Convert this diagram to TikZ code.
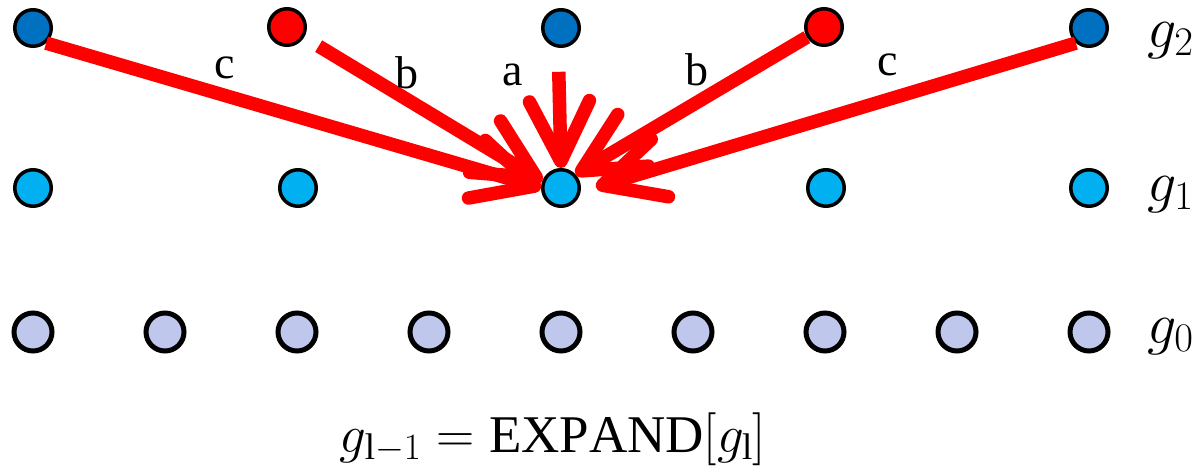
\RequirePackage{fix-cm}
\documentclass[tikz,border=0pt]{standalone}
\usepackage{fontspec}
\setmainfont{Liberation Serif}
\usetikzlibrary{arrows.meta}
\definecolor{dblue}{HTML}{0070C0}
\definecolor{lblue}{HTML}{00B0F0}
\definecolor{lav}{HTML}{BFC8EC}
\definecolor{pred}{HTML}{FF0000}
\begin{document}
\begin{tikzpicture}[x=1pt,y=-1pt,
  dot/.style={circle,draw=black,line width=3.5pt,minimum size=36.5pt,inner sep=0pt},
  dotA/.style={dot,fill=dblue},
  dotB/.style={dot,fill=lblue},
  dotR/.style={dot,fill=pred},
  dotC/.style={circle,draw=black,line width=5pt,minimum size=38pt,inner sep=0pt,fill=lav},
  arr/.style={draw=pred,line width=13.5pt,-{Straight Barb[length=60pt,width=60pt,round]}},
  lbl/.style={inner sep=0pt,font=\fontsize{46}{54}\selectfont},
  glbl/.style={anchor=base west,inner sep=0pt,font=\fontsize{58}{68}\selectfont}]
\path[use as bounding box] (0,0) rectangle (1204,466);
% level g2
\node[dotA] (n20) at (33,28) {};
\node[dotR] (n21) at (287,27) {};
\node[dotA] (n22) at (561,28) {};
\node[dotR] (n23) at (824,27) {};
\node[dotA] (n24) at (1089,28) {};
% level g1
\node[dotB] (n10) at (33,188) {};
\node[dotB] (n11) at (298,188) {};
\node[dotB] (n12) at (561,188) {};
\node[dotB] (n13) at (826,188) {};
\node[dotB] (n14) at (1089,188) {};
% level g0
\foreach \i in {0,...,8} {
  \node[dotC] (n0\i) at ({33+132*\i},332) {};
}
% arrows
\draw[arr] (n20.-49) -- (n12.180);
\draw[arr,shorten <=17pt] (n21) -- (n12.160);
\draw[arr,shorten <=24pt] (n22.-98) -- (n12.90);
\draw[arr] (n23) -- (n12.43);
\draw[arr,shorten >=16pt] (n24.-131) -- (n12.-11);
% arrow labels
\node[lbl] (lc1) at (225,68) {c};
\node[lbl] (lb1) at (407,73) {b};
\node[lbl] (la) at (513,75) {a};
\node[lbl] (lb2) at (697,70) {b};
\node[lbl] (lc2) at (888,65) {c};
% level labels
\node[glbl] (g2) at (1147,47) {$g_2$};
\node[glbl] (g1) at (1147,201) {$g_1$};
\node[glbl] (g0) at (1147,343) {$g_0$};
% equation
\node[anchor=base,inner sep=0pt,font=\fontsize{53}{63}\selectfont] (eq) at (553,452)
  {$g_{\mathrm{l}-1} = \mathrm{EXPAND}[g_{\mathrm{l}}]$};
\end{tikzpicture}
\end{document}
